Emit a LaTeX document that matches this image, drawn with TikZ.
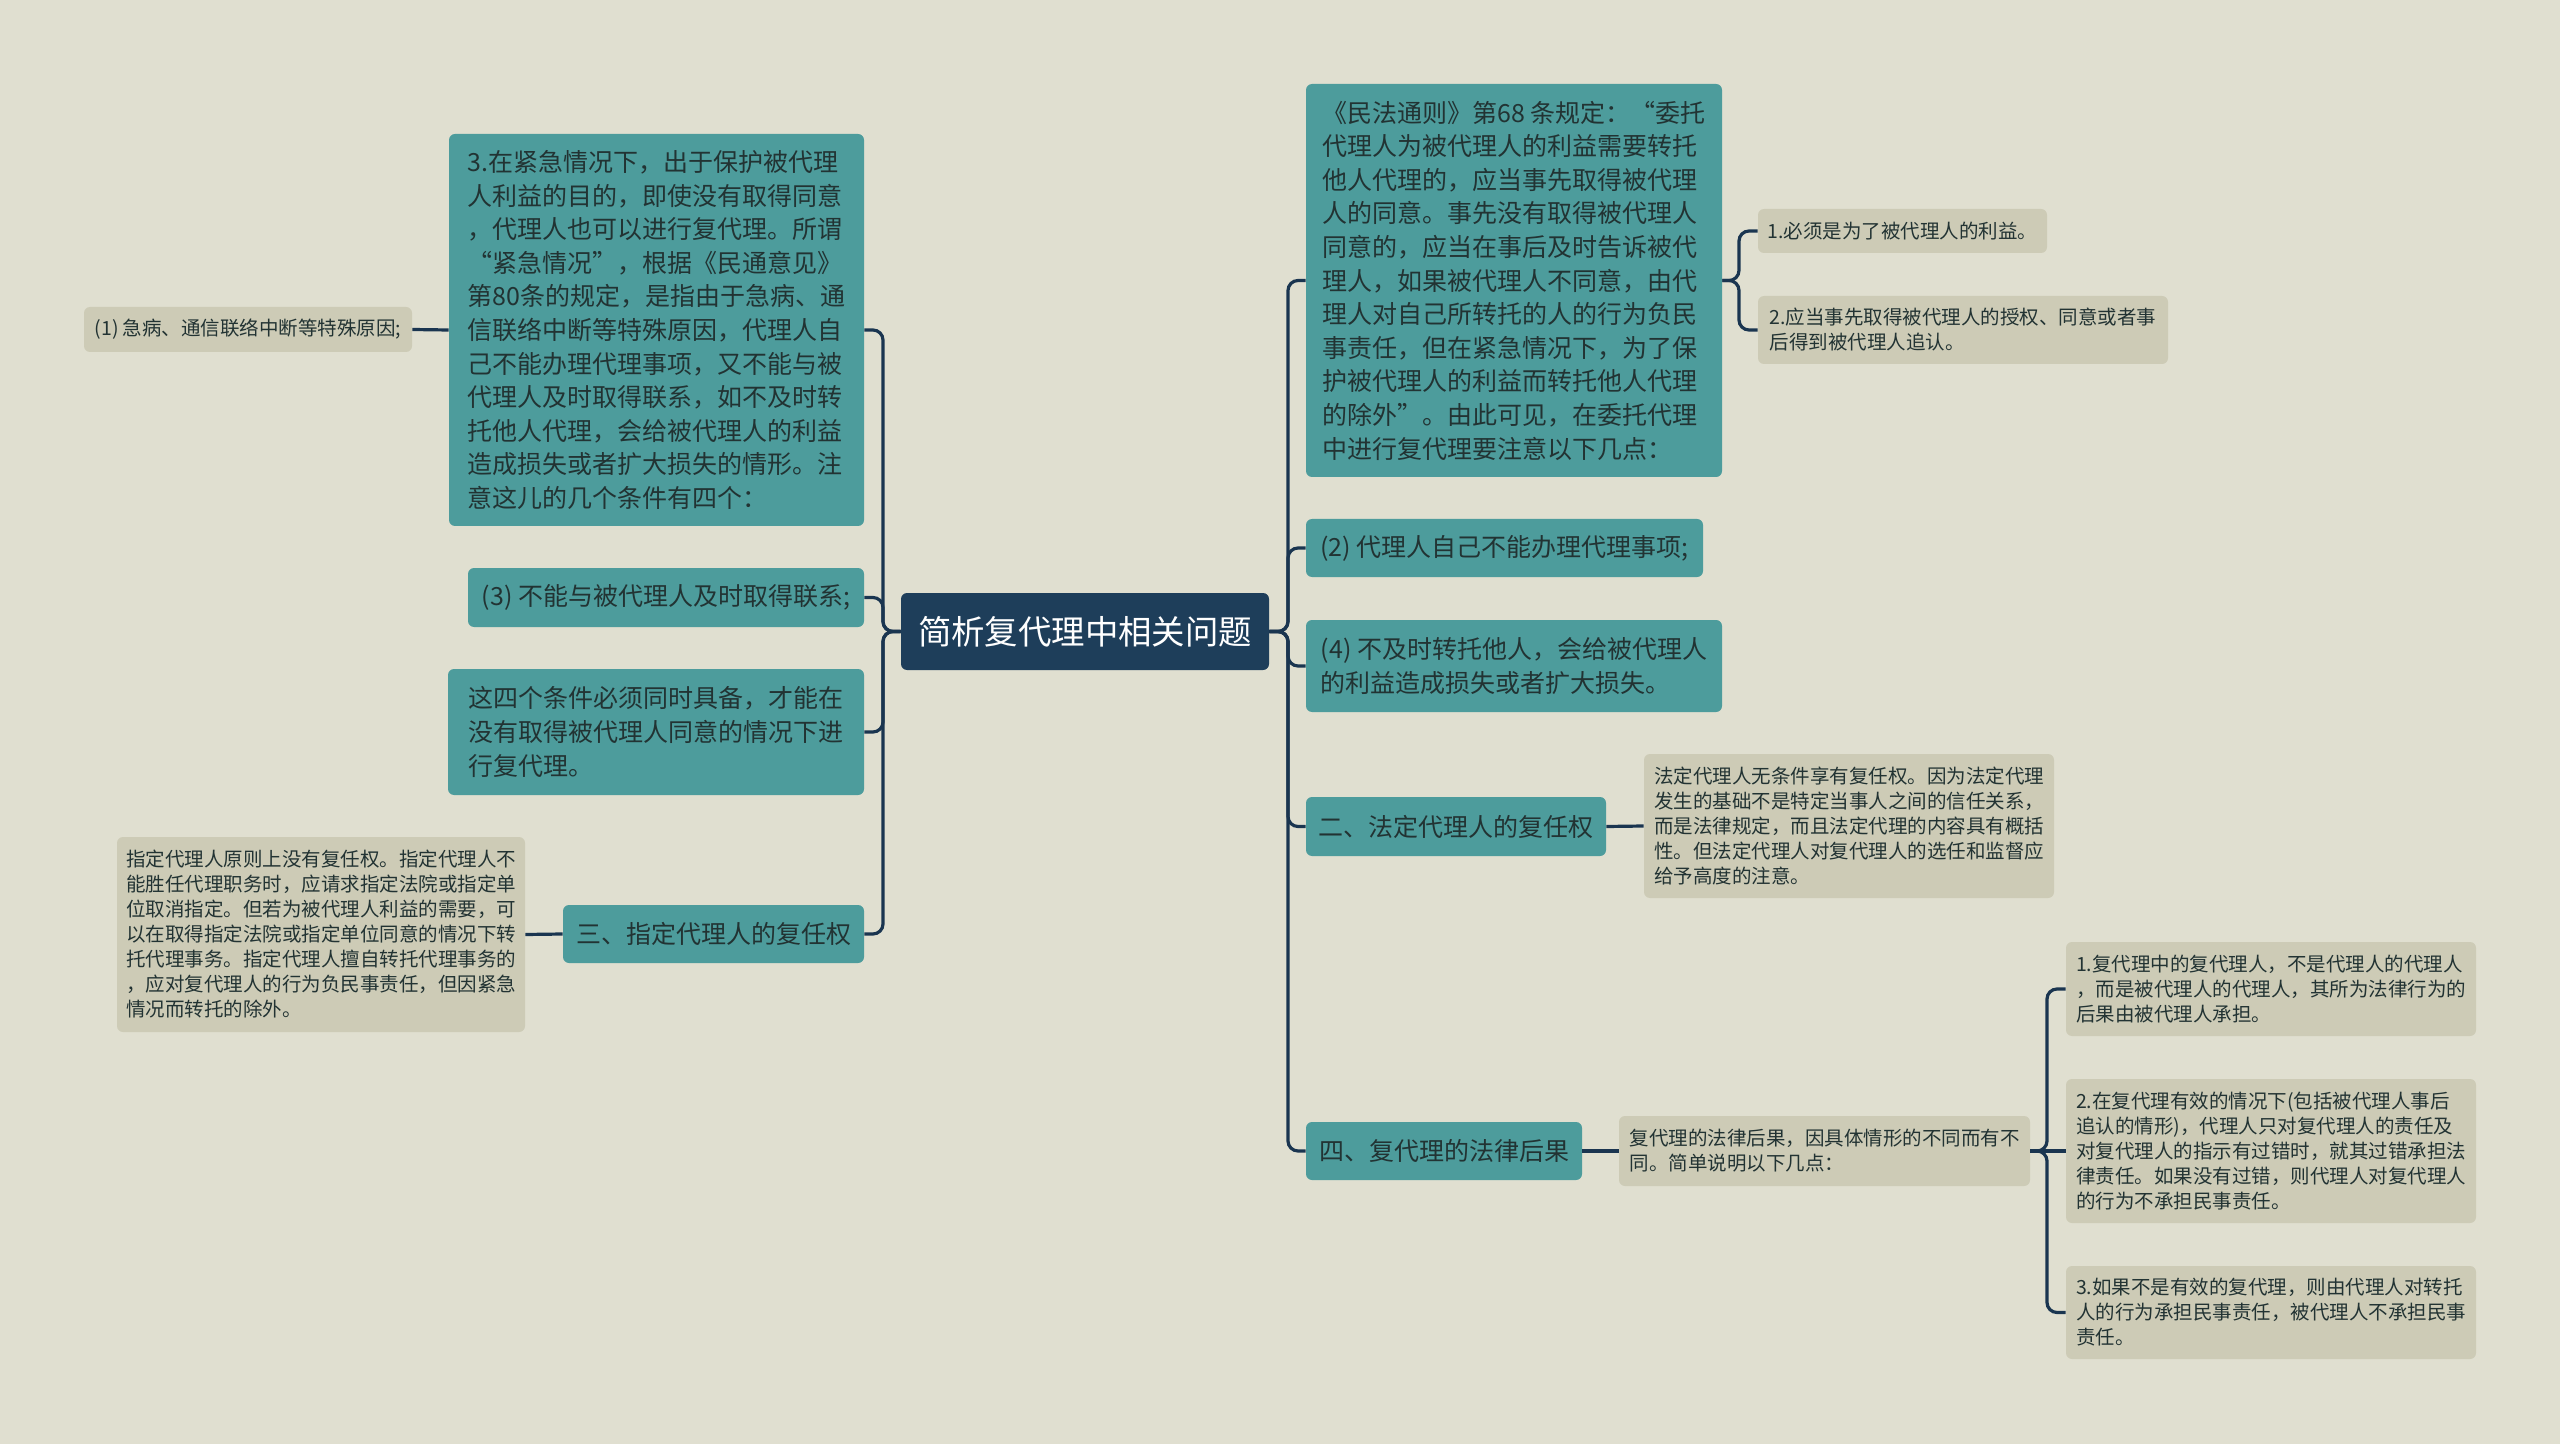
\documentclass[tikz,border=0pt]{standalone}
\usepackage{fontspec}
\newfontfamily\cjk{Noto Sans CJK SC}
\definecolor{bgcol}{HTML}{E0DFD0}
\definecolor{tealcol}{HTML}{4D9C9C}
\definecolor{rootcol}{HTML}{1E3E5A}
\definecolor{leafcol}{HTML}{CDCBB6}
\definecolor{linkcol}{HTML}{1A3550}
\definecolor{inkcol}{HTML}{223333}
\tikzset{
	rootbox/.style={fill=rootcol, text=white, rounded corners=3pt, inner sep=0pt,
		font=\cjk\fontsize{16.7}{20}\selectfont},
	topicbox/.style={fill=tealcol, text=inkcol, rounded corners=3pt, inner sep=0pt, align=left,
		font=\cjk\fontsize{12.5}{16.8}\selectfont},
	leafbox/.style={fill=leafcol, text=inkcol, rounded corners=3pt, inner sep=0pt, align=left,
		font=\cjk\fontsize{9.75}{12.5}\selectfont},
	link/.style={draw=linkcol, line width=1.6pt, rounded corners=5pt}
}

\begin{document}
\begin{tikzpicture}[x=0.5pt, y=-0.5pt]
\fill [bgcol] (0,0) rectangle (2560,1444);
\useasboundingbox (0,0) rectangle (2560,1444);

% NODES

% root
\node (root) [rootbox, minimum width=184pt, minimum height=38.5pt] at (1085,631.5) {简析复代理中相关问题};

% left branch
\node (cond1) [topicbox, minimum width=207.5pt, minimum height=196pt] at (656.5,330) {3.在紧急情况下，出于保护被代理\\人利益的目的，即使没有取得同意\\，代理人也可以进行复代理。所谓\\“紧急情况”，根据《民通意见》\\第80条的规定，是指由于急病、通\\信联络中断等特殊原因，代理人自\\己不能办理代理事项，又不能与被\\代理人及时取得联系，如不及时转\\托他人代理，会给被代理人的利益\\造成损失或者扩大损失的情形。注\\意这儿的几个条件有四个：};
\node (c1leaf) [leafbox, minimum width=164pt, minimum height=22.5pt] at (248,329.5) {(1) 急病、通信联络中断等特殊原因;};
\node (cond3) [topicbox, minimum width=198pt, minimum height=29.5pt] at (666,597.5) {(3) 不能与被代理人及时取得联系;};
\node (condsum) [topicbox, minimum width=208pt, minimum height=63pt] at (656,732) {这四个条件必须同时具备，才能在\\没有取得被代理人同意的情况下进\\行复代理。};
\node (sec3) [topicbox, minimum width=150.5pt, minimum height=29pt] at (713.5,934) {三、指定代理人的复任权};
\node (sec3leaf) [leafbox, minimum width=204pt, minimum height=97.5pt] at (321,934.5) {指定代理人原则上没有复任权。指定代理人不\\能胜任代理职务时，应请求指定法院或指定单\\位取消指定。但若为被代理人利益的需要，可\\以在取得指定法院或指定单位同意的情况下转\\托代理事务。指定代理人擅自转托代理事务的\\，应对复代理人的行为负民事责任，但因紧急\\情况而转托的除外。};

% right branch
\node (rule68) [topicbox, minimum width=208pt, minimum height=196.5pt] at (1514,280.5) {《民法通则》第68 条规定：“委托\\代理人为被代理人的利益需要转托\\他人代理的，应当事先取得被代理\\人的同意。事先没有取得被代理人\\同意的，应当在事后及时告诉被代\\理人，如果被代理人不同意，由代\\理人对自己所转托的人的行为负民\\事责任，但在紧急情况下，为了保\\护被代理人的利益而转托他人代理\\的除外”。由此可见，在委托代理\\中进行复代理要注意以下几点：};
\node (rule68a) [leafbox, minimum width=144.5pt, minimum height=22pt] at (1902.5,231) {1.必须是为了被代理人的利益。};
\node (rule68b) [leafbox, minimum width=205pt, minimum height=34pt] at (1963,330) {2.应当事先取得被代理人的授权、同意或者事\\后得到被代理人追认。};
\node (cond2) [topicbox, minimum width=198.5pt, minimum height=29pt] at (1504.5,548) {(2) 代理人自己不能办理代理事项;};
\node (cond4) [topicbox, minimum width=208pt, minimum height=46pt] at (1514,666) {(4) 不及时转托他人，会给被代理人\\的利益造成损失或者扩大损失。};
\node (sec2) [topicbox, minimum width=150pt, minimum height=29.5pt] at (1456,826.5) {二、法定代理人的复任权};
\node (sec2leaf) [leafbox, minimum width=205pt, minimum height=72pt] at (1849,826) {法定代理人无条件享有复任权。因为法定代理\\发生的基础不是特定当事人之间的信任关系，\\而是法律规定，而且法定代理的内容具有概括\\性。但法定代理人对复代理人的选任和监督应\\给予高度的注意。};
\node (sec4) [topicbox, minimum width=138pt, minimum height=29pt] at (1444,1151) {四、复代理的法律后果};
\node (sec4leaf) [leafbox, minimum width=205.5pt, minimum height=35pt] at (1824.5,1151) {复代理的法律后果，因具体情形的不同而有不\\同。简单说明以下几点：};
\node (res1) [leafbox, minimum width=205pt, minimum height=47pt] at (2271,989) {1.复代理中的复代理人，不是代理人的代理人\\，而是被代理人的代理人，其所为法律行为的\\后果由被代理人承担。};
\node (res2) [leafbox, minimum width=205pt, minimum height=72pt] at (2271,1151) {2.在复代理有效的情况下(包括被代理人事后\\追认的情形)，代理人只对复代理人的责任及\\对复代理人的指示有过错时，就其过错承担法\\律责任。如果没有过错，则代理人对复代理人\\的行为不承担民事责任。};
\node (res3) [leafbox, minimum width=205pt, minimum height=46.5pt] at (2271,1312.5) {3.如果不是有效的复代理，则由代理人对转托\\人的行为承担民事责任，被代理人不承担民事\\责任。};

%CONNECTIONS
\coordinate (lfork) at (883,631.5);
\coordinate (rfork) at (1288,631.5);
\coordinate (r68fork) at (1739,280.5);
\coordinate (s4fork) at (2047,1151);

\draw [link] (root.west) -- (lfork) |- (cond1.east);
\draw [link] (root.west) -- (lfork) |- (cond3.east);
\draw [link] (root.west) -- (lfork) |- (condsum.east);
\draw [link] (root.west) -- (lfork) |- (sec3.east);
\draw [link] (root.east) -- (rfork) |- (rule68.west);
\draw [link] (root.east) -- (rfork) |- (cond2.west);
\draw [link] (root.east) -- (rfork) |- (cond4.west);
\draw [link] (root.east) -- (rfork) |- (sec2.west);
\draw [link] (root.east) -- (rfork) |- (sec4.west);

\draw [link] (cond1.west) -- (c1leaf.east);
\draw [link] (sec3.west) -- (sec3leaf.east);
\draw [link] (rule68.east) -- (r68fork) |- (rule68a.west);
\draw [link] (rule68.east) -- (r68fork) |- (rule68b.west);
\draw [link] (sec2.east) -- (sec2leaf.west);
\draw [link] (sec4.east) -- (sec4leaf.west);
\draw [link] (sec4leaf.east) -- (s4fork) |- (res1.west);
\draw [link] (sec4leaf.east) -- (res2.west);
\draw [link] (sec4leaf.east) -- (s4fork) |- (res3.west);

\end{tikzpicture}
\end{document}
